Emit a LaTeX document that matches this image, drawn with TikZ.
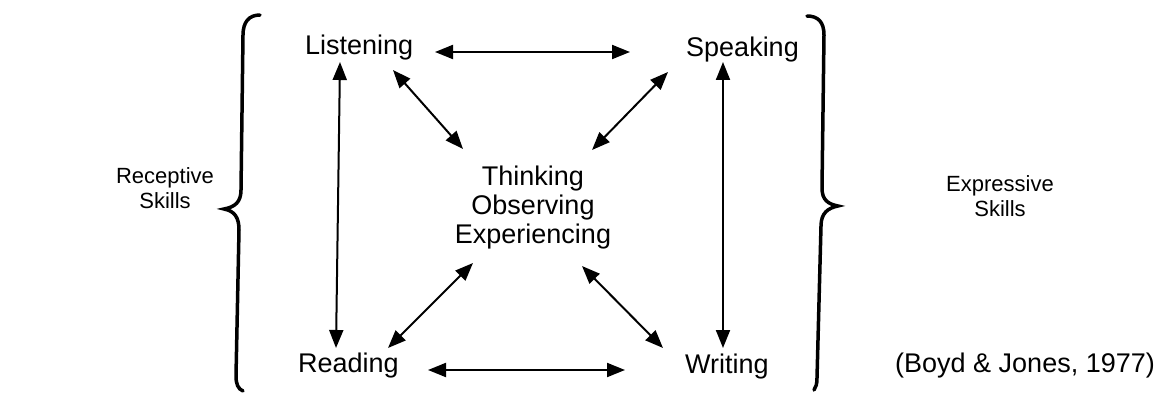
\documentclass[tikz,border=0pt]{standalone}
\usepackage{fontspec}
\setmainfont{Liberation Sans}
\usetikzlibrary{arrows.meta}
\begin{document}
\begin{tikzpicture}[x=1pt,y=-1pt,
  lbl/.style={font=\fontsize{27}{29}\selectfont, inner sep=0pt},
  side/.style={font=\fontsize{22}{25}\selectfont, inner sep=0pt, align=center},
  conn/.style={line width=2pt, {Triangle[length=18pt,width=14pt]}-{Triangle[length=18pt,width=14pt]}},
  bracestroke/.style={line width=3.5pt, line cap=round}]
\useasboundingbox (0,0) rectangle (1173,393);
\fill[white] (0,0) rectangle (1173,393);
% labels
\node[lbl, anchor=base west] (lis) at (305,55) {Listening};
\node[lbl, anchor=base west] (spk) at (686,57) {Speaking};
\node[lbl, anchor=base west] (rea) at (298,372) {Reading};
\node[lbl, anchor=base west] (wri) at (685,373) {Writing};
\node[lbl, align=center] (ctr) at (533,208) {Thinking\\Observing\\Experiencing};
\node[side] (rec) at (165,188) {Receptive\\Skills};
\node[side] (exp) at (1000,196) {Expressive\\Skills};
\node[lbl, anchor=base west] (cit) at (895,372) {(Boyd \& Jones, 1977)};
% arrow end points
\coordinate (ls1) at (435,52);  \coordinate (ls2) at (630,52);
\coordinate (rw1) at (428,370); \coordinate (rw2) at (625,370);
\coordinate (lr1) at (340,62);  \coordinate (lr2) at (336,348);
\coordinate (sw1) at (723,62);  \coordinate (sw2) at (723,348);
\coordinate (lc1) at (393,70);  \coordinate (lc2) at (463,149);
\coordinate (sc1) at (668,72);  \coordinate (sc2) at (592,150);
\coordinate (rc1) at (388,348); \coordinate (rc2) at (473,263);
\coordinate (wc1) at (663,348); \coordinate (wc2) at (582,266);
\draw[conn] (ls1) -- (ls2);
\draw[conn] (rw1) -- (rw2);
\draw[conn] (lr1) -- (lr2);
\draw[conn] (sw1) -- (sw2);
\draw[conn] (lc1) -- (lc2);
\draw[conn] (sc1) -- (sc2);
\draw[conn] (rc1) -- (rc2);
\draw[conn] (wc1) -- (wc2);
% braces
\draw[bracestroke] (260,15) .. controls (249,15) and (243,22) .. (243,35)
  -- (241,190) .. controls (241,202) and (235,207) .. (224,209)
  .. controls (235,211) and (239,218) .. (239,230)
  -- (236,376) .. controls (236,384) and (238,389) .. (243,391);
\draw[bracestroke] (807,16) .. controls (818,16) and (824,22) .. (824,35)
  -- (822,188) .. controls (822,200) and (828,204) .. (838,206)
  .. controls (828,208) and (821,213) .. (821,226)
  -- (817,378) .. controls (817,384) and (816,387) .. (814,390);
\end{tikzpicture}
\end{document}
